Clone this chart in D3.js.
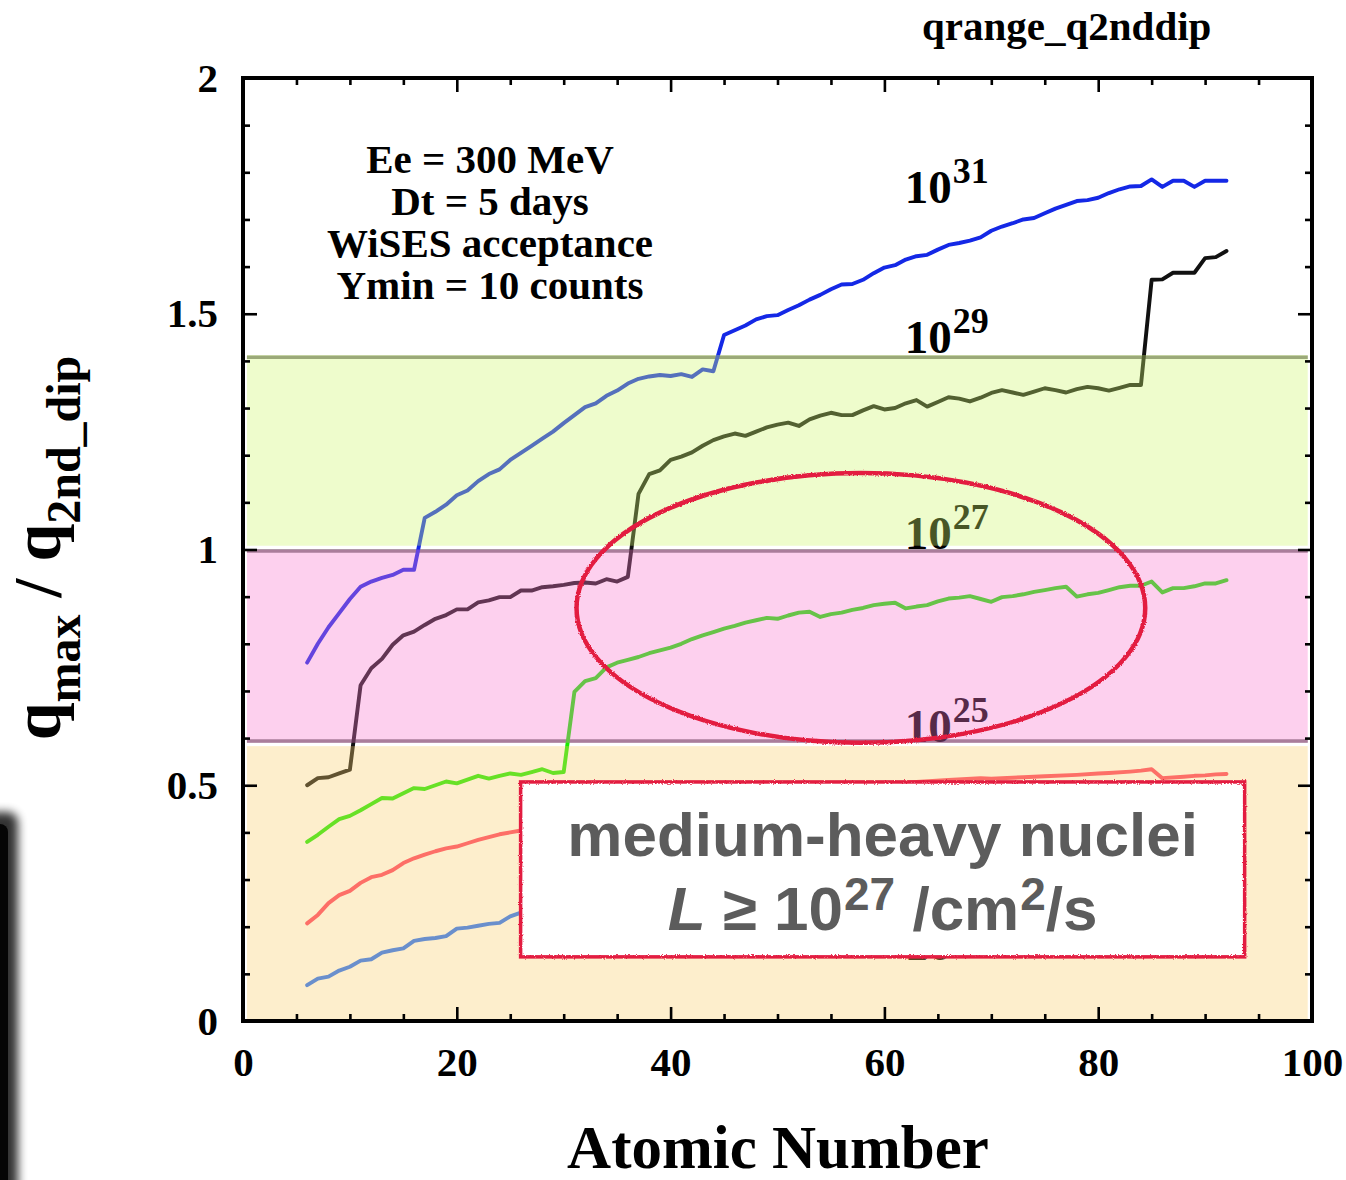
<!DOCTYPE html>
<html>
<head>
<meta charset="utf-8">
<script src="https://cdn.jsdelivr.net/npm/d3@7"></script>
<style>
  html, body { margin: 0; padding: 0; background: #fff; }
  svg { display: block; }
</style>
</head>
<body>
<svg id="chart" width="1346" height="1180"></svg>
<script>
// ---------------- DATA ----------------
// Atomic number Z vs q_max / q_2nd_dip for several luminosities
const lum31 = [[6,0.76],[7,0.80],[8,0.835],[9,0.865],[10,0.895],[11,0.921],[12,0.932],[13,0.94],[14,0.946],[15,0.957],[16,0.957],[17,1.067],[18,1.08],[19,1.095],[20,1.115],[21,1.125],[22,1.145],[23,1.16],[24,1.17],[25,1.19],[26,1.205],[27,1.22],[28,1.235],[29,1.25],[30,1.268],[31,1.285],[32,1.302],[33,1.31],[34,1.326],[35,1.337],[36,1.352],[37,1.362],[38,1.367],[39,1.37],[40,1.368],[41,1.372],[42,1.366],[43,1.382],[44,1.378],[45,1.455],[46,1.465],[47,1.475],[48,1.488],[49,1.495],[50,1.497],[51,1.508],[52,1.518],[53,1.53],[54,1.54],[55,1.552],[56,1.562],[57,1.563],[58,1.572],[59,1.586],[60,1.598],[61,1.603],[62,1.615],[63,1.622],[64,1.625],[65,1.636],[66,1.646],[67,1.65],[68,1.655],[69,1.662],[70,1.676],[71,1.685],[72,1.692],[73,1.70],[74,1.703],[75,1.713],[76,1.723],[77,1.731],[78,1.739],[79,1.741],[80,1.746],[81,1.756],[82,1.764],[83,1.77],[84,1.771],[85,1.785],[86,1.769],[87,1.782],[88,1.782],[89,1.769],[90,1.782],[91,1.782],[92,1.782]];

const lum29 = [[6,0.50],[7,0.515],[8,0.517],[9,0.525],[10,0.533],[11,0.712],[12,0.748],[13,0.768],[14,0.798],[15,0.818],[16,0.826],[17,0.84],[18,0.853],[19,0.861],[20,0.873],[21,0.873],[22,0.888],[23,0.892],[24,0.899],[25,0.899],[26,0.913],[27,0.913],[28,0.92],[29,0.922],[30,0.925],[31,0.929],[32,0.93],[33,0.928],[34,0.937],[35,0.932],[36,0.942],[37,1.118],[38,1.16],[39,1.168],[40,1.19],[41,1.197],[42,1.206],[43,1.22],[44,1.232],[45,1.24],[46,1.246],[47,1.241],[48,1.25],[49,1.259],[50,1.265],[51,1.269],[52,1.262],[53,1.276],[54,1.284],[55,1.29],[56,1.285],[57,1.285],[58,1.295],[59,1.304],[60,1.297],[61,1.30],[62,1.31],[63,1.317],[64,1.303],[65,1.313],[66,1.323],[67,1.32],[68,1.314],[69,1.322],[70,1.332],[71,1.338],[72,1.333],[73,1.328],[74,1.335],[75,1.342],[76,1.338],[77,1.333],[78,1.34],[79,1.345],[80,1.342],[81,1.337],[82,1.343],[83,1.349],[84,1.349],[85,1.572],[86,1.573],[87,1.587],[88,1.587],[89,1.587],[90,1.618],[91,1.62],[92,1.633]];

const lum27 = [[6,0.38],[7,0.395],[8,0.412],[9,0.428],[10,0.435],[11,0.447],[12,0.46],[13,0.473],[14,0.472],[15,0.483],[16,0.494],[17,0.492],[18,0.50],[19,0.508],[20,0.504],[21,0.512],[22,0.52],[23,0.514],[24,0.52],[25,0.525],[26,0.522],[27,0.528],[28,0.534],[29,0.526],[30,0.528],[31,0.698],[32,0.721],[33,0.727],[34,0.75],[35,0.76],[36,0.766],[37,0.772],[38,0.78],[39,0.786],[40,0.792],[41,0.80],[42,0.81],[43,0.818],[44,0.825],[45,0.832],[46,0.838],[47,0.845],[48,0.85],[49,0.855],[50,0.853],[51,0.86],[52,0.866],[53,0.868],[54,0.857],[55,0.863],[56,0.866],[57,0.872],[58,0.876],[59,0.882],[60,0.885],[61,0.887],[62,0.875],[63,0.879],[64,0.882],[65,0.89],[66,0.896],[67,0.898],[68,0.901],[69,0.895],[70,0.889],[71,0.899],[72,0.901],[73,0.905],[74,0.91],[75,0.914],[76,0.918],[77,0.921],[78,0.90],[79,0.905],[80,0.908],[81,0.914],[82,0.92],[83,0.923],[84,0.923],[85,0.932],[86,0.909],[87,0.918],[88,0.918],[89,0.922],[90,0.928],[91,0.928],[92,0.935]];

const lum25 = [[6,0.207],[7,0.225],[8,0.25],[9,0.267],[10,0.276],[11,0.293],[12,0.305],[13,0.31],[14,0.32],[15,0.335],[16,0.345],[17,0.353],[18,0.36],[19,0.366],[20,0.37],[21,0.377],[22,0.384],[23,0.39],[24,0.396],[25,0.40],[26,0.404],[28,0.41],[30,0.42],[33,0.432],[36,0.443],[40,0.457],[44,0.468],[48,0.48],[52,0.49],[56,0.497],[60,0.503],[63,0.507],[66,0.511],[69,0.515],[70,0.514],[72,0.516],[73,0.517],[75,0.519],[78,0.522],[80,0.525],[81,0.526],[83,0.529],[84,0.531],[85,0.534],[86,0.515],[88,0.518],[89,0.52],[90,0.521],[91,0.523],[92,0.524]];

const lum23 = [[6,0.076],[7,0.09],[8,0.094],[9,0.107],[10,0.115],[11,0.128],[12,0.131],[13,0.145],[14,0.15],[15,0.154],[16,0.17],[17,0.174],[18,0.176],[19,0.18],[20,0.196],[21,0.198],[22,0.202],[23,0.206],[24,0.208],[25,0.222],[26,0.23],[30,0.25],[35,0.27],[40,0.29],[45,0.305],[50,0.32],[55,0.33],[60,0.34],[65,0.35],[70,0.36],[75,0.365],[80,0.372],[85,0.38],[92,0.385]];

const seriesData = [lum31, lum29, lum27, lum25, lum23];
const seriesExponents = ["31", "29", "27", "25", "23"];
const seriesColors = ["#1428e6", "#111111", "#1aeb00", "#ff3c64", "#1e6eff"];

// label anchor points (Z, ratio) for "10^n"
const labelZ = [61.9, 61.9, 61.9, 61.9, 61.9];
const labelQ = [1.735, 1.417, 1.001, 0.592, 0.129];

// shaded bands [low, high] and colours
const bandLow  = [1.008, 0.59, 0.004];
const bandHigh = [1.4125, 1.0, 0.583];
const bandColors = ["rgb(206,246,109)", "rgb(249,121,206)", "rgb(249,206,109)"];
const bandEdgeLines = [1.408, 0.997, 0.594];

const xTicks = [0, 20, 40, 60, 80, 100];
const xTickLabels = ["0", "20", "40", "60", "80", "100"];
const yTicks = [0, 0.5, 1, 1.5, 2];
const yTickLabels = ["0", "0.5", "1", "1.5", "2"];

const infoLines = ["Ee = 300 MeV", "Dt = 5 days", "WiSES acceptance", "Ymin = 10 counts"];

// ---------------- CHART ----------------
const W = 1346, H = 1180;
const mLeft = 243, mRight = 1312, mTop = 78, mBottom = 1021;
const x = d3.scaleLinear().domain([0, 100]).range([mLeft, mRight]);
const y = d3.scaleLinear().domain([0, 2]).range([mBottom, mTop]);

const svg = d3.select("#chart");
const serif = "'Liberation Serif', 'Times New Roman', serif";
const sans = "'Liberation Sans', Arial, Helvetica, sans-serif";

const defs = svg.append("defs");
const rough = defs.append("filter").attr("id", "rough")
  .attr("x", "-5%").attr("y", "-10%").attr("width", "110%").attr("height", "120%");
rough.append("feTurbulence").attr("type", "fractalNoise").attr("baseFrequency", 0.9)
  .attr("numOctaves", 1).attr("seed", 4).attr("result", "n");
rough.append("feDisplacementMap").attr("in", "SourceGraphic").attr("in2", "n")
  .attr("scale", 3).attr("xChannelSelector", "R").attr("yChannelSelector", "G");
const blur = defs.append("filter").attr("id", "blur")
  .attr("x", "-100%").attr("y", "-20%").attr("width", "300%").attr("height", "140%");
blur.append("feGaussianBlur").attr("stdDeviation", 5);

svg.append("rect").attr("width", W).attr("height", H).attr("fill", "#fff");

// left-edge window shadow decoration
svg.append("rect").attr("x", -20).attr("y", 812).attr("width", 38).attr("height", 400)
  .attr("rx", 10).attr("fill", "#000").attr("opacity", 0.8).attr("filter", "url(#blur)");
svg.append("rect").attr("x", -20).attr("y", 824).attr("width", 28).attr("height", 400)
  .attr("rx", 8).attr("fill", "#050505");

// band edge lines (under fills)
svg.append("g").selectAll("line").data(bandEdgeLines).join("line")
  .attr("x1", x(0.37)).attr("x2", x(99.6))
  .attr("y1", d => y(d)).attr("y2", d => y(d))
  .attr("stroke", "#808080").attr("stroke-width", 3.5);

// series lines
const line = d3.line().x(d => x(d[0])).y(d => y(d[1]));
svg.append("g").selectAll("path").data(seriesData).join("path")
  .attr("d", line)
  .attr("fill", "none")
  .attr("stroke", (d, i) => seriesColors[i])
  .attr("stroke-width", 3.9)
  .attr("stroke-linejoin", "round")
  .attr("stroke-linecap", "round");

// series labels 10^n
const lab = svg.append("g").attr("font-family", serif).attr("font-weight", "bold").attr("fill", "#000");
seriesExponents.forEach((e, i) => {
  const t = lab.append("text").attr("x", x(labelZ[i])).attr("y", y(labelQ[i]));
  t.append("tspan").attr("font-size", 47).text("10");
  t.append("tspan").attr("font-size", 36).attr("dy", -20).attr("dx", 1).text(e);
});

// bands (semi-transparent fills over lines)
svg.append("g").selectAll("rect").data(bandLow).join("rect")
  .attr("x", x(0.37)).attr("width", x(99.6) - x(0.37))
  .attr("y", (d, i) => y(bandHigh[i]))
  .attr("height", (d, i) => y(d) - y(bandHigh[i]))
  .attr("fill", (d, i) => bandColors[i])
  .attr("fill-opacity", 0.35);

// axes
const axG = svg.append("g");
const minorX = d3.range(0, 101, 5).filter(v => v % 20 !== 0);
const minorY = d3.range(0, 21).map(v => v / 10).filter(v => Math.round(v * 10) % 5 !== 0);

function styleAxis(g) {
  g.attr("font-family", serif).attr("font-size", 41).attr("font-weight", "bold");
  g.select(".domain").remove();
  g.selectAll(".tick line").attr("stroke", "#000").attr("stroke-width", 2.6);
  g.selectAll(".tick text").attr("fill", "#000");
}

axG.append("g").attr("transform", `translate(0,${mBottom})`)
  .call(d3.axisBottom(x).tickValues(xTicks).tickSize(-14).tickPadding(26)
    .tickFormat((d, i) => xTickLabels[i]))
  .call(styleAxis);
axG.append("g").attr("transform", `translate(0,${mBottom})`)
  .call(d3.axisBottom(x).tickValues(minorX).tickSize(-7).tickFormat(""))
  .call(styleAxis);
axG.append("g").attr("transform", `translate(0,${mTop})`)
  .call(d3.axisTop(x).tickValues(xTicks).tickSize(-14).tickFormat(""))
  .call(styleAxis);
axG.append("g").attr("transform", `translate(0,${mTop})`)
  .call(d3.axisTop(x).tickValues(minorX).tickSize(-7).tickFormat(""))
  .call(styleAxis);
axG.append("g").attr("transform", `translate(${mLeft},0)`)
  .call(d3.axisLeft(y).tickValues(yTicks).tickSize(-14).tickPadding(25)
    .tickFormat((d, i) => yTickLabels[i]))
  .call(styleAxis);
axG.append("g").attr("transform", `translate(${mLeft},0)`)
  .call(d3.axisLeft(y).tickValues(minorY).tickSize(-7).tickFormat(""))
  .call(styleAxis);
axG.append("g").attr("transform", `translate(${mRight},0)`)
  .call(d3.axisRight(y).tickValues(yTicks).tickSize(-14).tickFormat(""))
  .call(styleAxis);
axG.append("g").attr("transform", `translate(${mRight},0)`)
  .call(d3.axisRight(y).tickValues(minorY).tickSize(-7).tickFormat(""))
  .call(styleAxis);

svg.append("rect").attr("x", mLeft).attr("y", mTop)
  .attr("width", mRight - mLeft).attr("height", mBottom - mTop)
  .attr("fill", "none").attr("stroke", "#000").attr("stroke-width", 4);

// axis titles
svg.append("text").attr("x", 778).attr("y", 1168)
  .attr("text-anchor", "middle").attr("font-family", serif).attr("font-weight", "bold")
  .attr("font-size", 61).attr("fill", "#000").text("Atomic Number");

const yl = svg.append("text").attr("transform", "translate(60,548) rotate(-90)")
  .attr("text-anchor", "middle").attr("font-family", serif).attr("font-weight", "bold")
  .attr("fill", "#000");
yl.append("tspan").attr("font-size", 68).text("q");
yl.append("tspan").attr("font-size", 48).attr("dy", 20).text("max");
yl.append("tspan").attr("font-size", 68).attr("dy", -20).text(" / q");
yl.append("tspan").attr("font-size", 48).attr("dy", 20).text("2nd_dip");

// title
svg.append("text").attr("x", 922).attr("y", 40)
  .attr("font-family", serif).attr("font-weight", "bold").attr("font-size", 41)
  .attr("fill", "#000").text("qrange_q2nddip");

// info text block
svg.append("g").selectAll("text").data(infoLines).join("text")
  .attr("x", 490).attr("y", (d, i) => 173 + i * 42)
  .attr("text-anchor", "middle").attr("font-family", serif).attr("font-weight", "bold")
  .attr("font-size", 41).attr("fill", "#000").text(d => d);

// annotation box
const boxZ = [25.97, 93.7], boxQ = [0.507, 0.136];
svg.append("rect").attr("x", x(boxZ[0])).attr("y", y(boxQ[0]))
  .attr("width", x(boxZ[1]) - x(boxZ[0])).attr("height", y(boxQ[1]) - y(boxQ[0]))
  .attr("fill", "#fff");
svg.append("rect").attr("x", x(boxZ[0])).attr("y", y(boxQ[0]))
  .attr("width", x(boxZ[1]) - x(boxZ[0])).attr("height", y(boxQ[1]) - y(boxQ[0]))
  .attr("fill", "none").attr("stroke", "#e31b3f").attr("stroke-width", 3.5)
  .attr("filter", "url(#rough)");

const bx = (x(boxZ[0]) + x(boxZ[1])) / 2;
svg.append("text").attr("x", bx).attr("y", 856).attr("text-anchor", "middle")
  .attr("font-family", sans).attr("font-weight", "bold").attr("font-size", 62)
  .attr("fill", "#5c5c5c").text("medium-heavy nuclei");
const t2 = svg.append("text").attr("x", bx).attr("y", 930).attr("text-anchor", "middle")
  .attr("font-family", sans).attr("font-weight", "bold").attr("font-size", 62)
  .attr("fill", "#5c5c5c");
t2.append("tspan").attr("font-style", "italic").text("L");
t2.append("tspan").text(" \u2265 10");
t2.append("tspan").attr("font-size", 46).attr("dy", -20).attr("dx", 1).text("27");
t2.append("tspan").attr("dy", 20).text(" /cm");
t2.append("tspan").attr("font-size", 46).attr("dy", -20).attr("dx", 1).text("2");
t2.append("tspan").attr("dy", 20).text("/s");

// red ellipse annotation
const ell = { z: 57.8, q: 0.876, rz: 26.6, rq: 0.286 };
svg.append("ellipse").attr("cx", x(ell.z)).attr("cy", y(ell.q))
  .attr("rx", x(ell.rz) - x(0)).attr("ry", y(0) - y(ell.rq))
  .attr("fill", "none").attr("stroke", "#e31b3f").attr("stroke-width", 4.5)
  .attr("filter", "url(#rough)");
</script>
</body>
</html>
